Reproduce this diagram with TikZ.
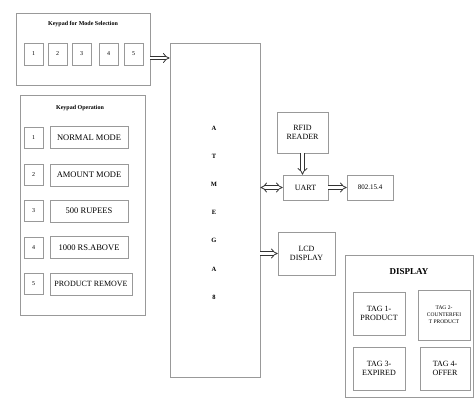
\documentclass[tikz,border=0pt]{standalone}
\usepackage{fontspec}
\setmainfont{Liberation Serif}
\usetikzlibrary{positioning,calc,arrows.meta}

\begin{document}
\begin{tikzpicture}[x=1pt, y=-1pt,
  every node/.style={inner sep=1pt, align=center},
  box/.style={draw=gray!80, line width=0.6pt},
  panel/.style={draw=gray!80, line width=0.8pt},
  keybox/.style={box, minimum width=19pt, minimum height=22pt, font=\fontsize{6}{7}\selectfont},
  itembox/.style={box, minimum width=78pt, minimum height=22pt, font=\fontsize{8.5}{9}\selectfont},
  tagbox/.style={box, minimum width=52pt, minimum height=43pt, font=\fontsize{8}{9}\selectfont},
  title/.style={font=\bfseries\fontsize{6}{7}\selectfont},
  bus/.style={double=white, draw=gray!40!black, double distance=2.6pt, line width=0.8pt, -{Implies}}]
  \useasboundingbox (0,0) rectangle (474,399);

  % keypad for mode selection
  \node (mode) [panel, minimum width=134pt, minimum height=72pt] at (83,49) {};
  \node (modetitle) [title] at (83,24) {Keypad for Mode Selection};
  \foreach \x [count=\i] in {33.5,57.5,81.5,108.5,133.5}
    \node (k\i) [keybox] at (\x,54) {\i};

  % keypad operation
  \node (oper) [panel, minimum width=125pt, minimum height=220pt] at (82.5,205) {};
  \node (opertitle) [title] at (80,108) {Keypad Operation};
  \foreach \y/\txt [count=\i] in {137.5/NORMAL MODE, 175/AMOUNT MODE, 211/500 RUPEES, 247.5/1000 RS.ABOVE}
  {
    \node (n\i) [keybox, minimum height=21pt] at (33.5,\y) {\i};
    \node (op\i) [itembox] at (89,\y) {\txt};
  }
  \node (n5) [keybox, minimum height=21pt] at (33.5,284) {5};
  \node (op5) [itembox, minimum width=82pt, font=\fontsize{8}{9}\selectfont] at (91,284) {PRODUCT REMOVE};

  % controller
  \node (atm) [panel, minimum width=90pt, minimum height=334pt] at (215,210) {};
  \foreach \c [count=\i] in {A,T,M,E,G,A,8}
    \node (atm\i) [font=\bfseries\fontsize{6.5}{7}\selectfont] at (214,{128+28.2*(\i-1)}) {\c};

  % peripherals
  \node (rfid) [box, minimum width=51pt, minimum height=41pt, font=\fontsize{8}{9.5}\selectfont] at (302.5,132.5) {RFID\\READER};
  \node (uart) [box, minimum width=45pt, minimum height=25pt, font=\fontsize{8}{9}\selectfont] at (305.5,187.5) {UART};
  \node (zig) [box, minimum width=46pt, minimum height=25pt, font=\fontsize{7}{8}\selectfont] at (370,187.5) {802.15.4};
  \node (lcd) [box, minimum width=57pt, minimum height=43pt, font=\fontsize{8}{9.5}\selectfont] at (306.5,253.5) {LCD\\DISPLAY};

  % display panel
  \node (disp) [panel, minimum width=128pt, minimum height=142pt] at (409,326) {};
  \node (disptitle) [font=\bfseries\fontsize{9}{10}\selectfont] at (409,272) {DISPLAY};
  \node (tag1) [tagbox] at (379,313.5) {TAG 1-\\PRODUCT};
  \node (tag2) [tagbox, minimum height=50pt, font=\fontsize{5.5}{7}\selectfont] at (444,315) {TAG 2-\\COUNTERFEI\\T PRODUCT};
  \node (tag3) [tagbox] at (379,368.5) {TAG 3-\\EXPIRED};
  \node (tag4) [tagbox, minimum width=50pt] at (445,368.5) {TAG 4-\\OFFER};

  % connections
  \draw[bus] ($(k5.east -| mode.east)+(0,4)$) -- ($(k5.east -| atm.west)+(0,4)$);
  \draw[bus] (rfid.south) -- (rfid.south |- uart.north);
  \draw[bus, {Implies}-{Implies}] (uart.west -| atm.east) -- (uart.west);
  \draw[bus] (uart) -- (zig);
  \draw[bus] (lcd.west -| atm.east) -- (lcd.west);
\end{tikzpicture}
\end{document}
